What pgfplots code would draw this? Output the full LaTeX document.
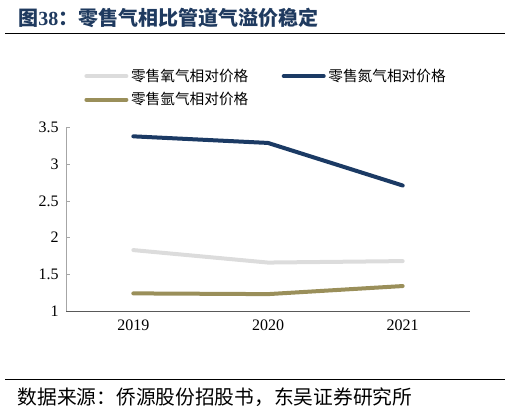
\documentclass[border=0pt]{standalone}
\usepackage{fontspec}
\usepackage{pgfplots}
\pgfplotsset{compat=1.18}
\setmainfont{Liberation Serif}
\newfontfamily\cjk{Noto Sans CJK SC}

\definecolor{titleblue}{HTML}{1F3A5F}
\definecolor{oxy}{HTML}{DCDCDC}
\definecolor{nitro}{HTML}{1B3A64}
\definecolor{argon}{HTML}{9A8F5A}

\begin{document}
\begin{tikzpicture}
    % page = 510 x 413 px, 1px = 0.75pt
    \path[use as bounding box] (0pt,0pt) rectangle (382.5pt,-309.75pt);

    % title and rules
    \node[anchor=base west, inner sep=0pt, text=titleblue] at (13.5pt,-19pt)
        {\fontsize{15}{17}\selectfont\bfseries\cjk 图\rmfamily 38\cjk：零售气相比管道气溢价稳定};
    \draw[line width=1.2pt] (3.75pt,-25pt) -- (378.75pt,-25pt);
    \draw[line width=1.2pt] (3.75pt,-284.5pt) -- (378.75pt,-284.5pt);
    \node[anchor=base west, inner sep=0pt] at (13pt,-303.5pt)
        {\fontsize{14.8}{16}\selectfont\cjk 数据来源：侨源股份招股书，东吴证券研究所};

    \begin{axis}[
        at={(49.5pt,-233.25pt)},
        anchor=south west,
        scale only axis,
        width=303pt,
        height=137.6pt,
        xmin=0.5, xmax=3.5,
        ymin=1, ymax=3.5,
        axis x line*=bottom,
        axis y line*=left,
        x axis line style={draw=black!65, line width=0.6pt, -},
        y axis line style={draw=black!35, line width=0.6pt, -},
        xtick={1,2,3},
        xticklabels={2019,2020,2021},
        x tick style={draw=none},
        extra x ticks={1.5,2.5,3.5},
        extra x tick labels={},
        extra x tick style={major tick length=4pt, tick align=inside,
            tick style={draw=black!65, line width=0.6pt}},
        ytick={1,1.5,2,2.5,3,3.5},
        y tick style={draw=black!35, line width=0.6pt},
        tick align=inside,
        major tick length=3pt,
        tick label style={font=\fontsize{12}{14}\selectfont},
        /pgf/number format/assume math mode=true,
        xticklabel style={yshift=-3pt},
        yticklabel style={xshift=-2pt},
        legend columns=2,
        legend cell align=left,
        legend style={
            at={(0.035,1.35)}, anchor=north west,
            draw=none, fill=none,
            font=\fontsize{11}{13}\selectfont\cjk,
            /tikz/every even column/.append style={column sep=23pt},
            row sep=3pt,
        },
        legend image code/.code={\draw[#1, line cap=round] (0pt,0pt) -- (30pt,0pt);},
    ]
    \addplot[oxy, line width=3pt, line cap=round] coordinates {(1,1.83) (2,1.66) (3,1.68)};
    \addlegendentry{零售氧气相对价格}
    \addplot[nitro, line width=3pt, line cap=round] coordinates {(1,3.38) (2,3.29) (3,2.71)};
    \addlegendentry{零售氮气相对价格}
    \addplot[argon, line width=3pt, line cap=round] coordinates {(1,1.24) (2,1.23) (3,1.34)};
    \addlegendentry{零售氩气相对价格}
    \end{axis}
\end{tikzpicture}
\end{document}
